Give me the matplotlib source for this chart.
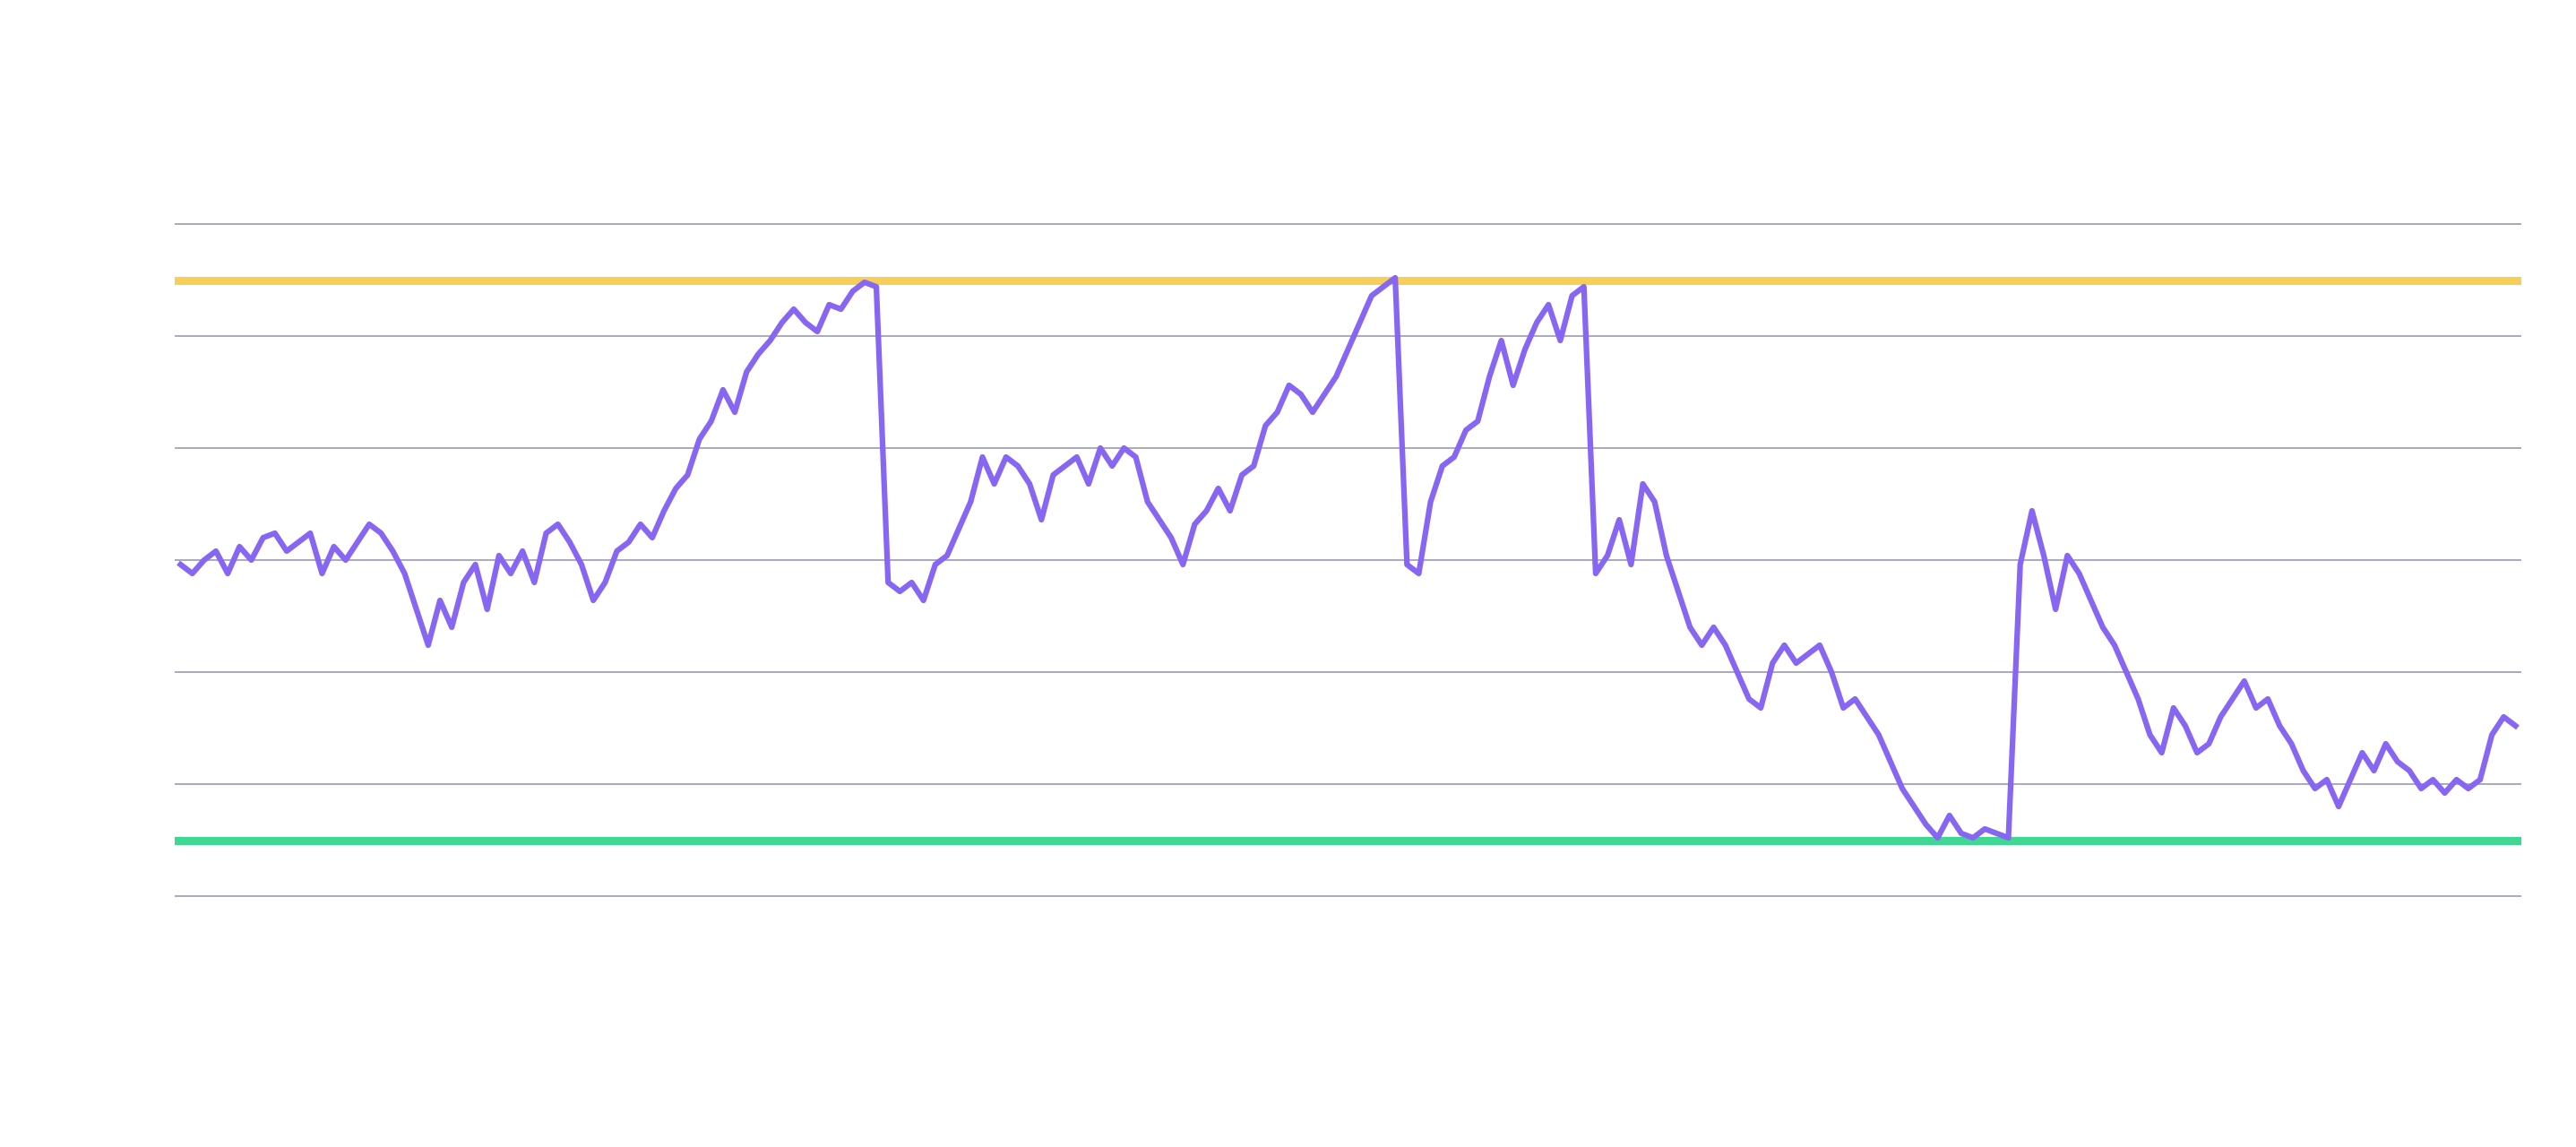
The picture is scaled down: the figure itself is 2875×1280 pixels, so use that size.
import matplotlib.pyplot as plt
import numpy as np

# series values, one per trading period
values = [29.6, 28.8, 30.0, 30.8, 28.8, 31.2, 30.0, 32.0, 32.4, 30.8, 31.6, 32.4, 28.8, 31.2, 30.0,
          31.6, 33.2, 32.4, 30.8, 28.8, 25.6, 22.4, 26.4, 24.0, 28.0, 29.6, 25.6, 30.4, 28.8, 30.8,
          28.0, 32.4, 33.2, 31.6, 29.6, 26.4, 28.0, 30.8, 31.6, 33.2, 32.0, 34.4, 36.4, 37.6, 40.8,
          42.4, 45.2, 43.2, 46.8, 48.4, 49.6, 51.2, 52.4, 51.2, 50.4, 52.8, 52.4, 54.0, 54.8, 54.4,
          28.0, 27.2, 28.0, 26.4, 29.6, 30.4, 32.8, 35.2, 39.2, 36.8, 39.2, 38.4, 36.8, 33.6, 37.6,
          38.4, 39.2, 36.8, 40.0, 38.4, 40.0, 39.2, 35.2, 33.6, 32.0, 29.6, 33.2, 34.4, 36.4, 34.4,
          37.6, 38.4, 42.0, 43.2, 45.6, 44.8, 43.2, 44.8, 46.4, 48.8, 51.2, 53.6, 54.4, 55.2,
          29.6, 28.8, 35.2, 38.4, 39.2, 41.6, 42.4, 46.4, 49.6, 45.6, 48.8, 51.2, 52.8, 49.6, 53.6,
          54.4, 28.8, 30.4, 33.6, 29.6, 36.8, 35.2, 30.4, 27.2, 24.0, 22.4, 24.0, 22.4, 20.0,
          17.6, 16.8, 20.8, 22.4, 20.8, 21.6, 22.4, 20.0, 16.8, 17.6,
          16.0, 14.4, 12.0, 9.6, 8.0, 6.4, 5.2, 7.2, 5.6, 5.2, 6.0, 5.6, 5.2,
          29.6, 34.4, 30.4, 25.6, 30.4, 28.8, 26.4, 24.0, 22.4, 20.0, 17.6, 14.4, 12.8, 16.8,
          15.2, 12.8, 13.6, 16.0, 17.6, 19.2, 16.8, 17.6, 15.2, 13.6, 11.2, 9.6, 10.4, 8.0,
          10.4, 12.8, 11.2, 13.6, 12.0, 11.2, 9.6, 10.4, 9.2, 10.4, 9.6, 10.4, 14.4, 16.0, 15.2]

grid_levels = [0, 10, 20, 30, 40, 50, 60]
upper_band = 55
lower_band = 5

x = np.arange(len(values))

fig = plt.figure(figsize=(28.75, 12.8), dpi=100)
ax = fig.add_axes([0.0678, 0, 0.911, 1])
ax.set_xlim(-0.5, len(values) - 0.5)
ax.set_ylim(-22.4, 80)
for g in grid_levels:
    ax.axhline(g, color='#9c9ab3', linewidth=1.2, zorder=1)
ax.axhline(upper_band, color='#f5cf58', linewidth=6.5, solid_capstyle='round', zorder=2)
ax.axhline(lower_band, color='#3fd792', linewidth=6.5, solid_capstyle='round', zorder=2)
ax.plot(x, values, color='#8866f4', linewidth=4.5, solid_joinstyle='round', zorder=3)
ax.axis('off')
fig.savefig('out.png', dpi=100)
